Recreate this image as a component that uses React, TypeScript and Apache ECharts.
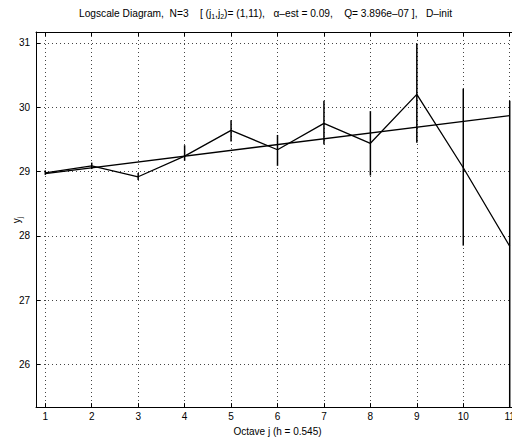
import React, { useEffect, useRef } from 'react';
import * as echarts from 'echarts';

const octaves = [1, 2, 3, 4, 5, 6, 7, 8, 9, 10, 11];
const yj = [28.98, 29.09, 28.92, 29.24, 29.64, 29.34, 29.75, 29.44, 30.2, 29.06, 27.84];
const yLow = [28.95, 29.04, 28.87, 29.17, 29.47, 29.09, 29.42, 28.94, 29.45, 27.85, 25.2];
const yHigh = [29.02, 29.14, 28.98, 29.41, 29.8, 29.57, 30.1, 29.94, 30.99, 30.29, 30.1];
const fitX = [1, 11];
const fitY = [28.97, 29.87];
const xTicks = [1, 2, 3, 4, 5, 6, 7, 8, 9, 10, 11];
const yTicks = [26, 27, 28, 29, 30, 31];

const FONT = '"Liberation Sans", Arial, Helvetica, sans-serif';

export default function App() {
  const ref = useRef<HTMLDivElement>(null);
  useEffect(() => {
    if (!ref.current) return;
    const chart = echarts.init(ref.current, undefined, { renderer: 'svg' });
    const xMin = 0.8, xMax = 11.2, yMin = 25.34, yMax = 31.17;
    const tickStyle = { color: '#000', width: 1 };
    const option: any = {
      animation: false,
      backgroundColor: '#fff',
      textStyle: { fontFamily: FONT },
      grid: { left: 36, right: 1, top: 32, bottom: 27, show: false },
      xAxis: [
        {
          type: 'value', position: 'bottom', min: xMin, max: xMax,
          name: 'Octave j (h = 0.545)', nameLocation: 'middle', nameGap: 15,
          nameTextStyle: { fontSize: 10, color: '#000', fontFamily: FONT },
          axisLine: { show: true, onZero: false, lineStyle: { color: '#000', width: 1 } },
          axisTick: { show: true, inside: true, length: 4, customValues: xTicks, lineStyle: tickStyle },
          axisLabel: { show: true, customValues: xTicks, fontSize: 10, color: '#000', margin: 4, fontFamily: FONT },
          splitLine: { show: true, lineStyle: { color: '#444', type: [1, 3], width: 1 } },
        },
        {
          type: 'value', position: 'top', min: xMin, max: xMax,
          axisLine: { show: true, onZero: false, lineStyle: { color: '#000', width: 1 } },
          axisTick: { show: true, inside: true, length: 4, customValues: xTicks, lineStyle: tickStyle },
          axisLabel: { show: false },
          splitLine: { show: false },
        },
      ],
      yAxis: [
        {
          type: 'value', position: 'left', min: yMin, max: yMax,
          axisLine: { show: true, onZero: false, lineStyle: { color: '#000', width: 1 } },
          axisTick: { show: true, inside: true, length: 4, customValues: yTicks, lineStyle: tickStyle },
          axisLabel: { show: true, customValues: yTicks, fontSize: 10, color: '#000', margin: 6, fontFamily: FONT },
          splitLine: { show: true, lineStyle: { color: '#444', type: [1, 3], width: 1 } },
        },
        {
          type: 'value', position: 'right', min: yMin, max: yMax,
          axisLine: { show: true, onZero: false, lineStyle: { color: '#000', width: 1 } },
          axisTick: { show: true, inside: true, length: 4, customValues: yTicks, lineStyle: tickStyle },
          axisLabel: { show: false },
          splitLine: { show: false },
        },
      ],
      graphic: [
        {
          type: 'text', left: 79, top: 6,
          style: {
            text: 'Logscale Diagram,  N=3    [ (j{sub|1},j{sub|2})= (1,11),   α–est = 0.09,    Q= 3.896e–07 ],   D–init',
            fontSize: 10.2, fontFamily: FONT, fill: '#000', lineHeight: 14,
            rich: { sub: { fontSize: 7, lineHeight: 8, verticalAlign: 'bottom', fontFamily: FONT, fill: '#000' } },
          },
        },
        {
          type: 'text', x: 16, y: 220, rotation: Math.PI / 2,
          style: {
            text: 'y{sub|j}', fontSize: 10, fontFamily: FONT, fill: '#000', lineHeight: 14,
            align: 'center', verticalAlign: 'middle',
            rich: { sub: { fontSize: 7, lineHeight: 8, verticalAlign: 'bottom', fontFamily: FONT, fill: '#000' } },
          },
        },
      ],
      series: [
        {
          type: 'line', xAxisIndex: 0, yAxisIndex: 0,
          data: octaves.map((x, i) => [x, yj[i]]),
          symbol: 'none', lineStyle: { color: '#000', width: 1.3 }, z: 3,
        },
        {
          type: 'line', xAxisIndex: 0, yAxisIndex: 0,
          data: fitX.map((x, i) => [x, fitY[i]]),
          symbol: 'none', lineStyle: { color: '#000', width: 1.3 }, z: 3,
        },
        {
          type: 'custom', xAxisIndex: 0, yAxisIndex: 0,
          data: octaves.map((x, i) => [x, yLow[i], yHigh[i]]),
          encode: { x: 0, y: [1, 2] },
          z: 4,
          renderItem: (params: any, api: any) => {
            const cs = params.coordSys;
            const p1 = api.coord([api.value(0), api.value(1)]);
            const p2 = api.coord([api.value(0), api.value(2)]);
            const clampY = (y: number) => Math.max(cs.y, Math.min(cs.y + cs.height, y));
            return {
              type: 'line',
              shape: { x1: p1[0], y1: clampY(p1[1]), x2: p2[0], y2: clampY(p2[1]) },
              style: { stroke: '#000', lineWidth: 1.5 },
            };
          },
        },
      ],
    };
    chart.setOption(option);
    return () => chart.dispose();
  }, []);
  return (
    <div style={{ position: 'fixed', left: 0, top: 0, width: 512, height: 441, overflow: 'hidden', background: '#fff' }}>
      <div ref={ref} style={{ width: 520, height: 441 }} />
    </div>
  );
}
